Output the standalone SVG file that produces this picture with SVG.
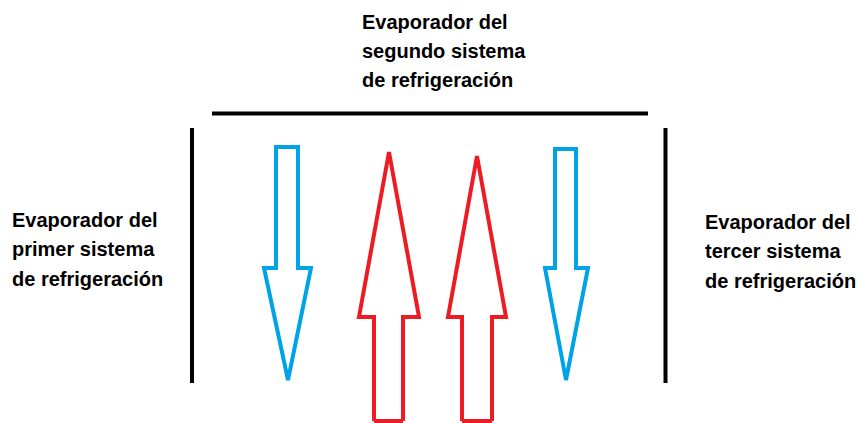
<svg xmlns="http://www.w3.org/2000/svg" width="858" height="423" viewBox="0 0 858 423">
<style>
.t{font-family:"Liberation Sans",Arial,sans-serif;font-weight:bold;font-size:20px;fill:#000}
.wall{stroke:#000;stroke-width:4;fill:none}
.cold{stroke:#00A2E8;stroke-width:4;fill:none;stroke-linejoin:miter}
.hot{stroke:#ED1C24;stroke-width:4;fill:none;stroke-linejoin:miter}
</style>
<rect width="858" height="423" fill="#fff"/>
<g id="walls">
<line class="wall" x1="212" y1="113.5" x2="648" y2="113.5"/>
<line class="wall" x1="192" y1="128" x2="192" y2="383"/>
<line class="wall" x1="665.5" y1="128" x2="665.5" y2="383"/>
</g>
<g id="label-top">
<text class="t" x="362" y="29">Evaporador del</text>
<text class="t" x="362" y="58">segundo sistema</text>
<text class="t" x="362" y="87">de refrigeración</text>
</g>
<g id="label-left">
<text class="t" x="12" y="227">Evaporador del</text>
<text class="t" x="12" y="256">primer sistema</text>
<text class="t" x="12" y="286">de refrigeración</text>
</g>
<g id="label-right">
<text class="t" x="705" y="229">Evaporador del</text>
<text class="t" x="705" y="258">tercer sistema</text>
<text class="t" x="705" y="288">de refrigeración</text>
</g>
<g id="arrows">
<path id="cold1" class="cold" d="M276,147 H298 V268 H311 L288,380 L264,268 H276 Z"/>
<path id="cold2" class="cold" d="M555,149 H576 V268 H588 L566,380 L545,268 H555 Z"/>
<path id="hot1" class="hot" d="M374,421 V317 H359 L389,152 L419,317 H403 V421"/>
<path id="hot2" class="hot" d="M462,421 V317 H448 L477,156 L506,317 H492 V421"/>
<path class="hot" d="M374,421 H403 M462,421 H492"/>
</g>
</svg>
